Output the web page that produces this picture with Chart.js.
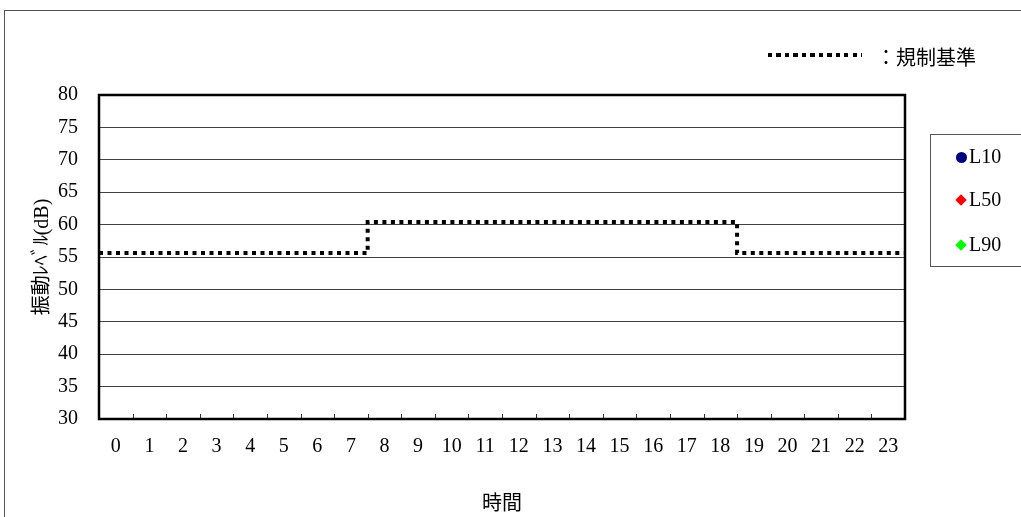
<!DOCTYPE html>
<html>
<head>
<meta charset="utf-8">
<script src="https://cdn.jsdelivr.net/npm/chart.js@4.4.1/dist/chart.umd.min.js"></script>
<style>
  body { margin: 0; background: #fff; overflow: hidden; }
  #wrap { position: relative; width: 1021px; height: 517px; overflow: hidden; }
  #outer { position: absolute; left: 4px; top: 10px; width: 1100px; height: 600px; border: 1px solid #555; }
  .txt { position: absolute; font-family: 'Liberation Serif', 'Noto Sans CJK JP', serif; color: #000; white-space: nowrap; }
  #stdLine { position: absolute; left: 768px; top: 53px; width: 94px; height: 4px;
    background: repeating-linear-gradient(to right, #000 0 4px, transparent 4px 8.5px); }
  #legBox { position: absolute; left: 930px; top: 134px; width: 200px; height: 131px; border: 1px solid #555; }
  .mk { position: absolute; }
</style>
</head>
<body>
<div id="wrap">
  <div id="outer"></div>
  <canvas id="chart" width="1021" height="517" style="position:absolute;left:0;top:0"></canvas>
  <div id="stdLine"></div>
  <div class="txt" style="left:876px;top:42px;font-size:20px;">：規制基準</div>
  <div id="legBox"></div>
  <div id="legItems"></div>
</div>
<script>
// hours on the x axis
var hours = [0,1,2,3,4,5,6,7,8,9,10,11,12,13,14,15,16,17,18,19,20,21,22,23];
// regulation standard (dB) for each hour
var standardValues = [55.6,55.6,55.6,55.6,55.6,55.6,55.6,55.6,
                      60.4,60.4,60.4,60.4,60.4,60.4,60.4,60.4,60.4,60.4,60.4,
                      55.6,55.6,55.6,55.6,55.6];
// measured series (no values plotted in the reference)
var l10Values = [];
var l50Values = [];
var l90Values = [];
var yTicks = [30,35,40,45,50,55,60,65,70,75,80];

var seriesNames = ['L10', 'L50', 'L90'];
var seriesColors = ['#000080', '#ff0000', '#00ff00'];
var seriesStyles = ['circle', 'rectRot', 'rectRot'];

// the standard is drawn as a step across each hour slot
var stdPoints = [];
hours.forEach(function (h, i) {
    stdPoints.push({ x: h - 0.5, y: standardValues[i] });
    stdPoints.push({ x: h + 0.5, y: standardValues[i] });
});

// legend items on the right
var legItems = document.getElementById('legItems');
var legTops = [157, 200, 245];
seriesNames.forEach(function (name, i) {
    var mk = document.createElement('div');
    mk.className = 'mk';
    if (seriesStyles[i] === 'circle') {
        mk.style.cssText = 'left:956px;top:' + (legTops[i] - 5.5) + 'px;width:11px;height:11px;border-radius:50%;background:' + seriesColors[i];
    } else {
        mk.style.cssText = 'left:957px;top:' + (legTops[i] - 4) + 'px;width:8px;height:8px;transform:rotate(45deg);background:' + seriesColors[i];
    }
    legItems.appendChild(mk);
    var t = document.createElement('div');
    t.className = 'txt';
    t.style.cssText = 'left:969px;top:' + (legTops[i] - 12) + 'px;font-size:20px;';
    t.textContent = name;
    legItems.appendChild(t);
});

var framePlugin = {
    id: 'frame',
    afterDatasetsDraw: function (chart) {
        var ctx = chart.ctx, a = chart.chartArea, x = chart.scales.x;
        ctx.save();
        ctx.strokeStyle = '#333';
        ctx.lineWidth = 1;
        ctx.beginPath();
        hours.slice(0, -1).forEach(function (h) {
            var px = Math.round(x.getPixelForValue(h + 0.5)) + 0.5;
            ctx.moveTo(px, a.bottom);
            ctx.lineTo(px, a.bottom - 5);
        });
        ctx.stroke();
        ctx.strokeStyle = '#000';
        ctx.lineWidth = 2.5;
        ctx.strokeRect(a.left, a.top, a.right - a.left, a.bottom - a.top);
        ctx.restore();
    }
};

var fontFamily = "'Liberation Serif', 'Noto Sans CJK JP', serif";

new Chart(document.getElementById('chart').getContext('2d'), {
    type: 'line',
    data: {
        datasets: [{
            label: '規制基準',
            data: stdPoints,
            borderColor: '#000',
            borderWidth: 4,
            borderDash: [4, 4.5],
            borderCapStyle: 'butt',
            pointRadius: 0,
            fill: false,
            tension: 0
        }].concat(seriesNames.map(function (name, i) {
            return {
                label: name,
                data: [l10Values, l50Values, l90Values][i],
                showLine: false,
                pointStyle: seriesStyles[i],
                backgroundColor: seriesColors[i],
                borderColor: seriesColors[i]
            };
        }))
    },
    options: {
        responsive: false,
        animation: false,
        layout: { padding: { left: 0, top: 95, right: 116, bottom: 0 } },
        plugins: { legend: { display: false }, tooltip: { enabled: false } },
        scales: {
            x: {
                type: 'linear',
                min: -0.5,
                max: 23.5,
                afterBuildTicks: function (scale) {
                    scale.ticks = hours.map(function (h) { return { value: h }; });
                },
                afterFit: function (scale) { scale.height = 98; },
                grid: { display: false },
                border: { display: false },
                ticks: {
                    color: '#000',
                    padding: 8,
                    maxRotation: 0,
                    autoSkip: false,
                    font: { family: fontFamily, size: 20 }
                },
                title: {
                    display: true,
                    text: '時間',
                    color: '#000',
                    padding: { top: 0, bottom: 0 },
                    font: { family: fontFamily, size: 20 }
                }
            },
            y: {
                min: 30,
                max: 80,
                afterBuildTicks: function (scale) {
                    scale.ticks = yTicks.map(function (v) { return { value: v }; });
                },
                afterFit: function (scale) { scale.width = 99; },
                grid: { color: '#404040', lineWidth: 1, drawTicks: false },
                border: { display: false },
                ticks: {
                    color: '#000',
                    padding: 21,
                    font: { family: fontFamily, size: 20 }
                },
                title: {
                    display: true,
                    text: '振動ﾚﾍﾞﾙ(dB)',
                    color: '#000',
                    padding: { top: 31, bottom: 0 },
                    font: { family: fontFamily, size: 20 }
                }
            }
        }
    },
    plugins: [framePlugin]
});
</script>
</body>
</html>
